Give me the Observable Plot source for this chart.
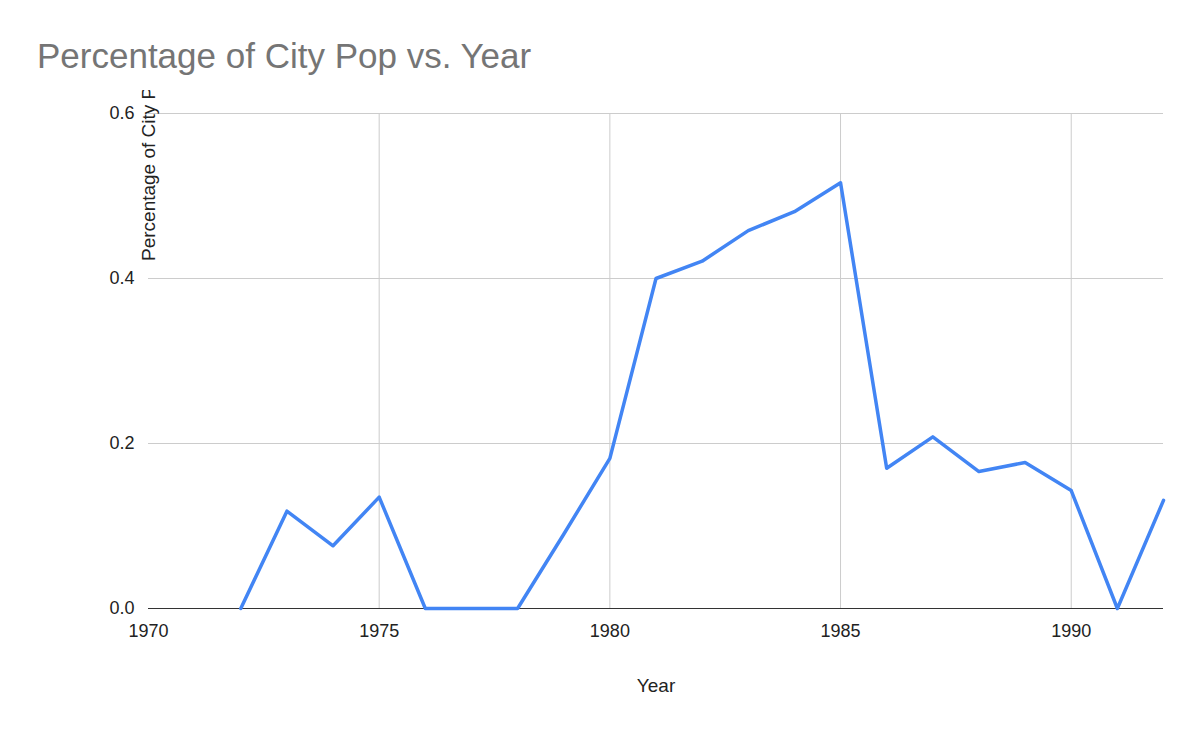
<!DOCTYPE html>
<html><head><meta charset="utf-8">
<script src="https://cdn.jsdelivr.net/npm/d3@7"></script>
<script src="https://cdn.jsdelivr.net/npm/@observablehq/plot@0.6"></script>
<style>
body{margin:0;background:#fff;font-family:"Liberation Sans",Arial,sans-serif}
#title{height:90px;box-sizing:border-box;padding:36px 0 0 37px;font-size:35px;color:#757575}
</style></head><body>
<div id="title">Percentage of City Pop vs. Year</div>
<div id="chart"></div>
<script>
const years = [1972,1973,1974,1975,1976,1977,1978,1979,1980,1981,1982,1983,1984,1985,1986,1987,1988,1989,1990,1991,1992];
const pct   = [0,0.118,0.076,0.135,0,0,0,0.09,0.182,0.4,0.421,0.458,0.481,0.516,0.17,0.208,0.166,0.177,0.143,0,0.131];
const data = years.map((y,i) => ({year:y, pct:pct[i]}));

const chart = Plot.plot({
  width:1200, height:652,
  marginLeft:148, marginRight:37, marginTop:23, marginBottom:134,
  style:{fontFamily:"Liberation Sans, Arial, sans-serif", fontSize:"18px", color:"#222"},
  x:{domain:[1970,1992], label:null},
  y:{domain:[0,0.6], label:null},
  marks:[
    Plot.gridX([1975,1980,1985,1990], {stroke:"#ccc", strokeOpacity:1}),
    Plot.gridY([0.2,0.4,0.6], {stroke:"#ccc", strokeOpacity:1}),
    Plot.axisX({tickSize:0, tickPadding:16, ticks:[1970,1975,1980,1985,1990], tickFormat:d=>String(d), label:null, fontSize:18}),
    Plot.axisY({tickSize:0, tickPadding:14, ticks:[0,0.2,0.4,0.6], tickFormat:d3.format(".1f"), label:null, fontSize:18}),
    Plot.ruleY([0], {stroke:"#333"}),
    Plot.line(data, {x:"year", y:"pct", stroke:"#4285f4", strokeWidth:3.5}),
    Plot.text(["Year"], {frameAnchor:"bottom", dy:83, fontSize:19}),
    Plot.text(["Percentage of City Pop"], {frameAnchor:"left", dy:-100, rotate:-90, fontSize:19})
  ]
});
document.getElementById("chart").append(chart);
</script>
</body></html>
